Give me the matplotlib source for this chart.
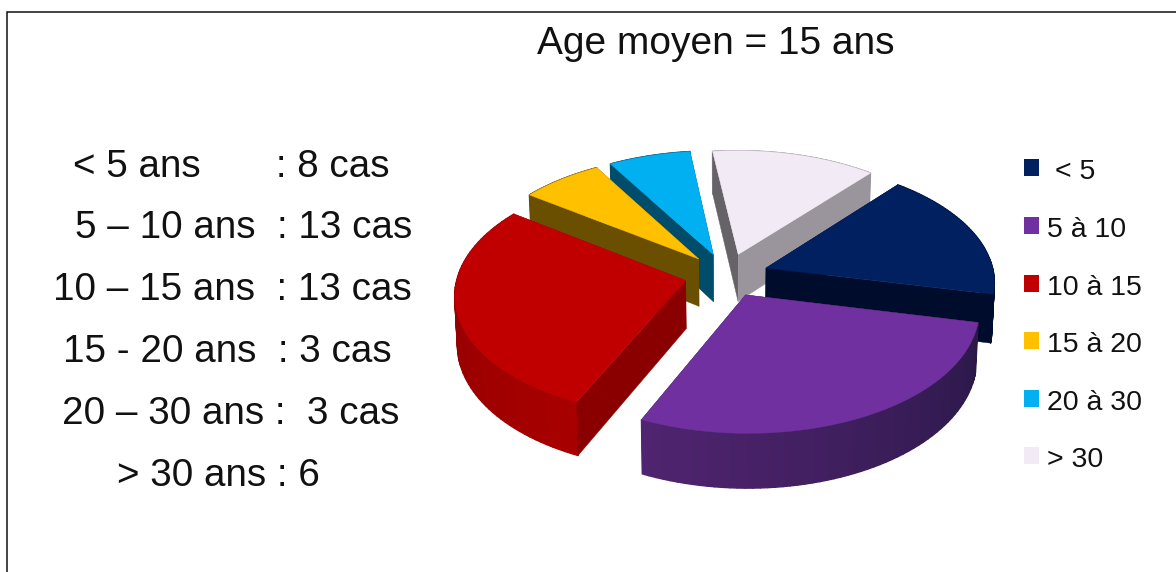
import numpy as np
import matplotlib
matplotlib.use("Agg")
import matplotlib.pyplot as plt
from matplotlib.colors import to_rgb
from matplotlib.patches import Polygon, Rectangle

plt.rcParams['font.family'] = ['Liberation Sans', 'DejaVu Sans']

# ---- data ----
categories = ['< 5', '5 à 10', '10 à 15', '15 à 20', '20 à 30', '> 30']
cases = [8, 13, 13, 3, 3, 6]
title = 'Age moyen = 15 ans'
left_lines = ['< 5 ans       : 8 cas', '5 – 10 ans  : 13 cas', '10 – 15 ans  : 13 cas',
              '15 - 20 ans  : 3 cas', '20 – 30 ans :  3 cas', '> 30 ans : 6']

# ---- styles ----
top_colors = ['#002060', '#7030A0', '#C00000', '#FFC000', '#00B0F0', '#F2EAF4']
wall_from = ['#000C30', '#2A1848', '#A80000', '#6B4F00', '#00506E', '#9A949C']
wall_to = ['#000C30', '#502470', '#8A0000', '#6B4F00', '#00506E', '#9A949C']
face_end = ['#000C2C', '#2A1848', '#8A0000', '#6B4F00', '#004D6B', '#9A949C']
face_start = ['#000C2C', '#2A1848', '#8A0000', '#6B4F00', '#004D6B', '#666268']
draw_order = [5, 4, 3, 0, 2, 1]

START = 50.0
CX, CY, R, S, K, EXPL, DEPTH = 726.5, 275, 228, 119, 0.107, 0.184, 48


def project(u, v, down=False):
    w = 1 + K * v
    x = R * u / w
    y = S * v / w
    if down:
        return CX + 0.99 * x, CY - y + DEPTH / w
    return CX + x, CY - y


fig = plt.figure(figsize=(11.76, 5.72), dpi=100)
ax = fig.add_axes([0, 0, 1, 1])
ax.set_xlim(0, 1176)
ax.set_ylim(572, 0)
ax.axis('off')

ax.plot([7, 7, 1176], [572, 12, 12], color='#111111', lw=1.1, solid_joinstyle='miter')

# slice angles, running clockwise from START
values = np.array(cases, float)
spans = values / values.sum() * 360.0
ends = START - np.cumsum(spans)
starts = ends + spans

for i in draw_order:
    a0, a1 = np.radians(starts[i]), np.radians(ends[i])
    mid = (a0 + a1) / 2
    ou, ov = EXPL * np.cos(mid), EXPL * np.sin(mid)
    th = np.linspace(a0, a1, 61)
    u = ou + np.cos(th)
    v = ov + np.sin(th)

    tx, ty = project(u, v)
    bx, by = project(u, v, True)
    ax0, ay0 = project(ou, ov)
    bx0, by0 = project(ou, ov, True)

    start_face = Polygon([(ax0, ay0), (tx[0], ty[0]), (bx[0], by[0]), (bx0, by0)],
                         fc=face_start[i], ec=face_start[i], lw=0.3)
    end_face = Polygon([(ax0, ay0), (tx[-1], ty[-1]), (bx[-1], by[-1]), (bx0, by0)],
                       fc=face_end[i], ec=face_end[i], lw=0.3)
    start_visible = np.cos(a0) < 0
    end_visible = np.cos(a1) > 0

    # faces turned away from the viewer go under the wall
    if not start_visible:
        ax.add_patch(start_face)
    if not end_visible:
        ax.add_patch(end_face)

    # outer wall with a shaded sweep
    c0, c1 = np.array(to_rgb(wall_from[i])), np.array(to_rgb(wall_to[i]))
    for j in range(len(th) - 1):
        f = j / (len(th) - 2)
        col = c0 + (c1 - c0) * f
        ax.add_patch(Polygon([(tx[j], ty[j]), (tx[j + 1], ty[j + 1]),
                              (bx[j + 1], by[j + 1]), (bx[j], by[j])],
                             fc=col, ec=col, lw=1.0, joinstyle='round'))

    if start_visible:
        ax.add_patch(start_face)
    if end_visible:
        ax.add_patch(end_face)

    # top surface
    ax.add_patch(Polygon(np.column_stack([np.r_[ax0, tx], np.r_[ay0, ty]]),
                         fc=top_colors[i], ec=top_colors[i], lw=0.3))

ax.text(716, 44, title, fontsize=28, ha='center', va='center', color='#111111')

row_x = [73, 75, 53, 63, 62, 117]
row_y = [167, 228, 290, 352, 414, 476]
for x, y, s in zip(row_x, row_y, left_lines):
    ax.text(x, y, s, fontsize=27.8, ha='left', va='center', color='#111111')

leg_y = [168, 226, 284, 341, 399, 456]
leg_tx = [1055, 1047, 1047, 1047, 1047, 1047]
for c, y, x, s in zip(top_colors, leg_y, leg_tx, categories):
    ax.add_patch(Rectangle((1024, y - 9), 15, 17, fc=c, ec='none'))
    ax.text(x, y + 4, s, fontsize=20.5, ha='left', va='center', color='#111111')

fig.savefig('out.png', dpi=100, facecolor='white')
